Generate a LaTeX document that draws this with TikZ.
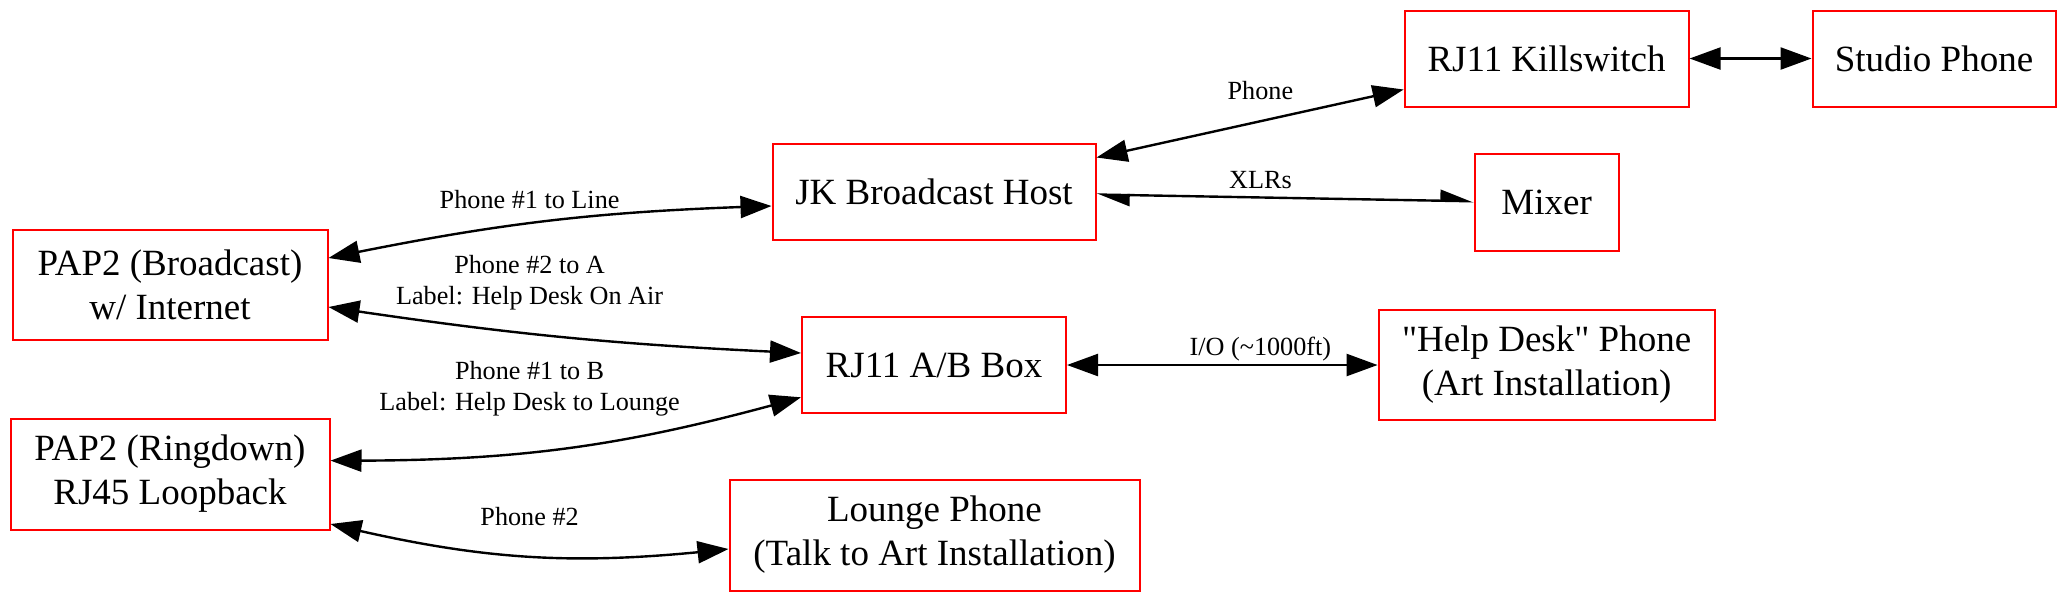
\documentclass[tikz,border=0pt]{standalone}
\usepackage{fontspec}
\setmainfont{Liberation Serif}
\usetikzlibrary{arrows.meta,bending,calc}
\begin{document}
\begin{tikzpicture}[x=0.5pt,y=-0.5pt,
  box/.style={draw=red, line width=1pt, inner sep=0pt, align=center, font=\fontsize{18.5}{22}\selectfont},
  lbl/.style={font=\fontsize{13.1}{15.9}\selectfont, align=center, inner sep=0pt},
  link/.style={line width=1.2pt, {Triangle[length=15.5pt,width=11pt]}-{Triangle[length=15.5pt,width=11pt]}},
  half/.style={line width=1.2pt, {Triangle[length=15pt,width=11pt,left]}-{Triangle[length=15pt,width=11pt,left]}}
]
\fill[white] (0,0) rectangle (2066,602);
\useasboundingbox (0,0) rectangle (2066,602);

\node[box, minimum width=157.5pt, minimum height=55pt] (pb) at (170,285) {PAP2 (Broadcast)\\w/ Internet};
\node[box, minimum width=159.5pt, minimum height=55.5pt] (pr) at (170,474) {PAP2 (Ringdown)\\RJ45 Loopback};
\node[box, minimum width=161.5pt, minimum height=48pt] (jk) at (934,191.5) {JK Broadcast Host};
\node[box, minimum width=132pt, minimum height=48pt] (ab) at (934,365) {RJ11 A/B Box};
\node[box, minimum width=205pt, minimum height=55.5pt] (lounge) at (934.5,535) {Lounge Phone\\(Talk to Art Installation)};
\node[box, minimum width=142pt, minimum height=48pt] (ks) at (1546.6,58.5) {RJ11 Killswitch};
\node[box, minimum width=121.5pt, minimum height=48pt] (studio) at (1934,58.5) {Studio Phone};
\node[box, minimum width=72pt, minimum height=48.5pt] (mixer) at (1546.6,202.3) {Mixer};
\node[box, minimum width=168pt, minimum height=55pt] (help) at (1546.6,365) {\textquotedbl Help Desk\textquotedbl\ Phone\\(Art Installation)};

\draw[link] ($(pb.east)+(0,-27)$) to[bend left=5] ($(jk.west)+(0,14.5)$);
\draw[link] ($(pb.east)+(0,22)$) to[bend right=3] ($(ab.west)+(0,-12)$);
\draw[link] ($(pr.east)+(0,-13.4)$) to[bend right=8] ($(ab.west)+(0,32.3)$);
\draw[link] ($(pr.east)+(0,50)$) to[bend right=10] ($(lounge.west)+(0,14)$);
\draw[link] ($(jk.east)+(0,-34)$) -- ($(ks.west)+(0,31)$);
\draw[half] ($(jk.east)+(0,3)$) -- ($(mixer.west)+(0,-1)$);
\draw[link] (ks.east) -- (studio.west);
\draw[link] (ab.east) -- (help.west);

\node[lbl] (l1) at (529.6,199.6) {Phone \#1 to Line};
\node[lbl] (l2) at (529.6,282.7) {Phone \#2 to A\\Label: Help Desk On Air};
\node[lbl] (l3) at (529.6,388.7) {Phone \#1 to B\\Label: Help Desk to Lounge};
\node[lbl] (l4) at (529.6,516.3) {Phone \#2};
\node[lbl] (l5) at (1260.4,91) {Phone};
\node[lbl] (l6) at (1260.4,180.4) {XLRs};
\node[lbl] (l7) at (1260.4,348.6) {I/O (\textasciitilde1000ft)};
\end{tikzpicture}
\end{document}
